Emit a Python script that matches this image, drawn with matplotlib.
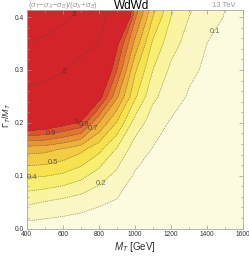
import matplotlib.pyplot as plt
import numpy as np

plt.rcParams["font.family"] = ["Liberation Sans", "DejaVu Sans"]
plt.rcParams["mathtext.fontset"] = "custom"
plt.rcParams["mathtext.rm"] = "Liberation Sans"
plt.rcParams["mathtext.it"] = "Liberation Sans:italic"

# grid
mass = [400, 500, 600, 700, 800, 900, 1000, 1100, 1200, 1300, 1400, 1500, 1600]
width = [0.0, 0.05, 0.10, 0.15, 0.20, 0.25, 0.30, 0.35, 0.40, 0.45]
ratio = [
    [0.05, 0.045, 0.04, 0.035, 0.03, 0.027, 0.024, 0.021, 0.018, 0.016, 0.014, 0.012, 0.01],
    [0.22, 0.195, 0.17, 0.145, 0.115, 0.09, 0.07, 0.055, 0.045, 0.04, 0.035, 0.03, 0.027],
    [0.415, 0.405, 0.38, 0.33, 0.25, 0.17, 0.09, 0.07, 0.055, 0.045, 0.04, 0.035, 0.03],
    [0.64, 0.63, 0.59, 0.53, 0.43, 0.29, 0.15, 0.095, 0.07, 0.055, 0.045, 0.04, 0.035],
    [1.15, 1.12, 1.05, 0.98, 0.70, 0.49, 0.26, 0.15, 0.09, 0.07, 0.06, 0.05, 0.045],
    [1.75, 1.70, 1.55, 1.35, 1.06, 0.72, 0.42, 0.22, 0.15, 0.09, 0.07, 0.06, 0.05],
    [2.4, 2.25, 2.05, 1.70, 1.25, 0.90, 0.52, 0.30, 0.18, 0.12, 0.085, 0.07, 0.06],
    [3.0, 2.85, 2.6, 2.3, 2.0, 1.03, 0.67, 0.38, 0.24, 0.16, 0.10, 0.08, 0.065],
    [3.6, 3.4, 3.15, 2.8, 2.3, 1.5, 0.82, 0.50, 0.30, 0.20, 0.14, 0.095, 0.075],
    [4.2, 4.0, 3.7, 3.3, 2.7, 2.0, 1.0, 0.62, 0.38, 0.25, 0.17, 0.115, 0.09],
]
levels = [0.0, 0.1, 0.2, 0.3, 0.4, 0.5, 0.6, 0.7, 0.8, 0.9, 1.0, 2.0, 3.0, 10.0]
band_colors = ["#FDFBDF", "#FBF7C4", "#FAF3A0", "#F8EE72", "#F6E24E", "#F2CC42",
               "#EDB23A", "#E79434", "#E07530", "#D9532C", "#D32429", "#D32429",
               "#D32429"]
label_pos = [(1445, 0.373), (800, 0.09), (430, 0.1), (546, 0.12), (537, 0.178),
             (668, 0.215), (722, 0.196), (765, 0.19), (605, 0.296), (660, 0.405)]

fig = plt.figure(figsize=(2.49, 2.56), dpi=100)
ax = fig.add_axes([0.107, 0.107, 0.869, 0.853])

M, G = np.meshgrid(mass, width)
Z = np.array(ratio)
ax.contourf(M, G, Z, levels=levels, colors=band_colors)
cs = ax.contour(M, G, Z, levels=levels[1:-1], colors="#444444",
                linewidths=0.45, linestyles=[(0, (1.5, 1.5))], alpha=0.7)
labels = ax.clabel(cs, manual=label_pos, inline=False, fontsize=5.5,
                   colors="#333333", fmt=lambda v: f"{v:g}")
for t in labels:
    t.set_rotation(0)

ax.set_xlim(400, 1600)
ax.set_ylim(0, 0.413)
ax.set_xticks([400, 600, 800, 1000, 1200, 1400, 1600])
ax.set_yticks([0.0, 0.1, 0.2, 0.3, 0.4])
ax.set_xticks(np.arange(400, 1601, 100), minor=True)
ax.set_yticks(np.arange(0, 0.41, 0.02), minor=True)
ax.tick_params(which="both", direction="in", top=True, right=True,
               colors="#999999", labelcolor="#333333", labelsize=4.8, width=0.5,
               pad=2)
ax.tick_params(which="major", length=3)
ax.tick_params(which="minor", length=1.5)
for s in ax.spines.values():
    s.set_color("#aaaaaa")
    s.set_linewidth(0.6)

ax.set_xlabel(r"$M_T$ [GeV]", fontsize=7, color="#333333", labelpad=1)
ax.set_ylabel(r"$\Gamma_T/M_T$", fontsize=6.5, color="#333333")
ax.yaxis.set_label_coords(-0.062, 0.52)

fig.text(0.112, 0.98, r"$(\sigma_T\!-\!\sigma_X\!-\!\sigma_B)/(\sigma_X\!+\!\sigma_B)$",
         fontsize=5.5, color="#999999", ha="left", va="center")
fig.text(0.53, 0.978, "WdWd", fontsize=8.5, color="black", ha="center", va="center")
fig.text(0.945, 0.98, "13 TeV", fontsize=5.5, color="#999999", ha="right", va="center")

fig.savefig("out.png", dpi=100)
